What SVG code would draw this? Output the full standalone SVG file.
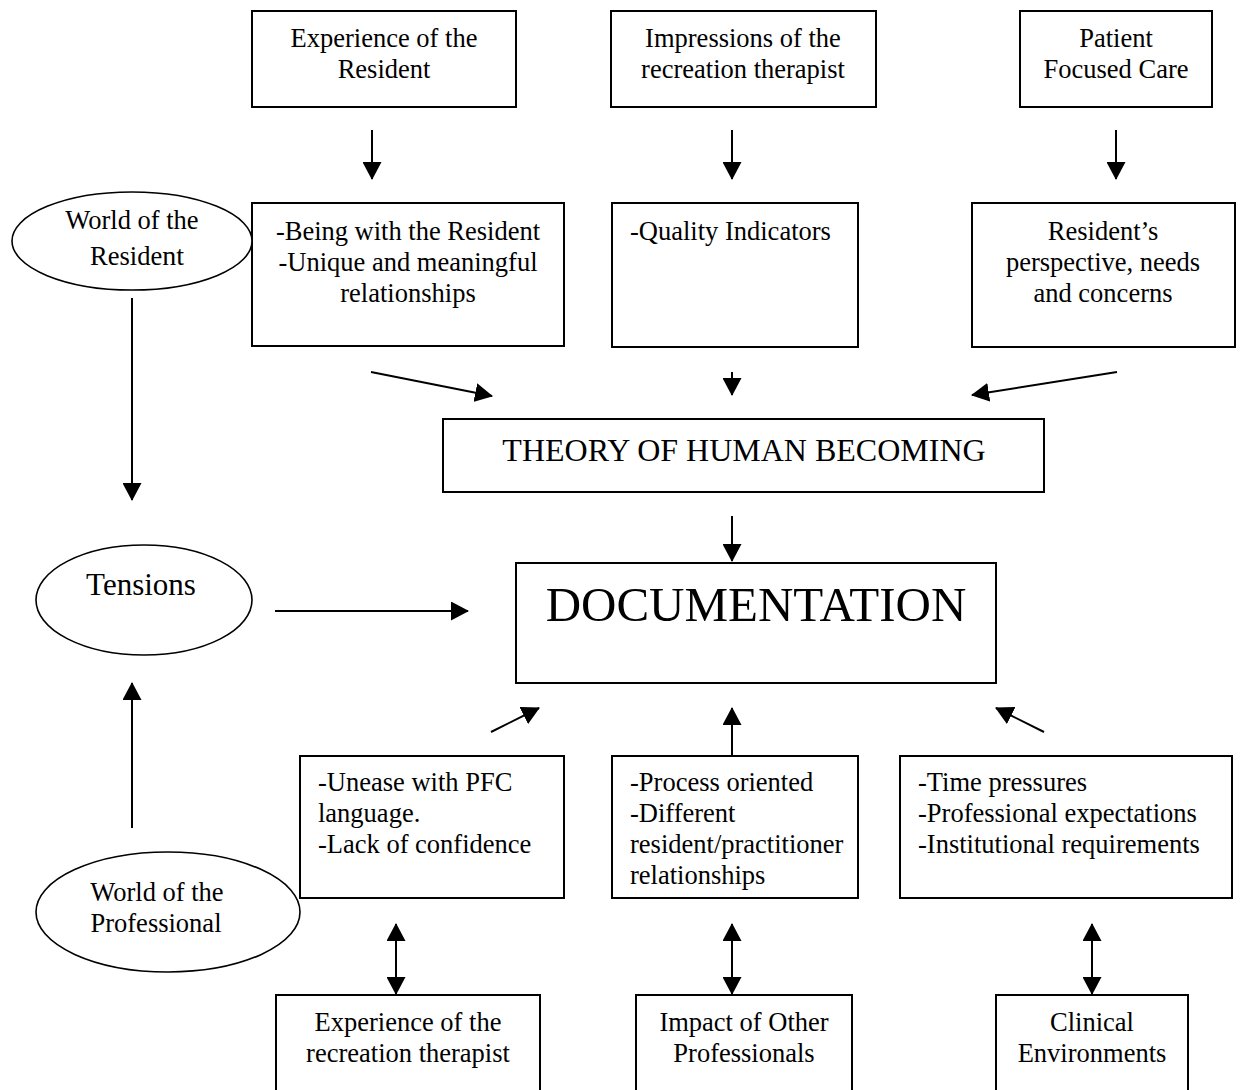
<svg xmlns="http://www.w3.org/2000/svg" width="1242" height="1090" viewBox="0 0 1242 1090">
  <style>
    .box { fill: #ffffff; stroke: #000000; stroke-width: 2; }
    .oval { fill: #ffffff; stroke: #000000; stroke-width: 1.6; }
    .lbl { font-family: "Liberation Serif", "Times New Roman", serif; font-size: 26.5px; fill: #000000; }
    .mid { text-anchor: middle; }
    .title { font-size: 32px; }
    .big { font-size: 49px; }
    .oval-lbl { font-size: 31px; }
    .link { stroke: #000000; stroke-width: 2; fill: none; marker-end: url(#arrow); }
    .both { marker-start: url(#arrow); }
  </style>
  <defs>
    <marker id="arrow" markerUnits="userSpaceOnUse" markerWidth="18" markerHeight="19" refX="17" refY="9.5" orient="auto-start-reverse">
      <path d="M0,0 L18,9.5 L0,19 Z" fill="#000000"/>
    </marker>
  </defs>

  <rect width="1242" height="1090" fill="#ffffff"/>

  <!-- top row -->
  <g id="experience-resident">
    <rect class="box" x="252" y="11" width="264" height="96"/>
    <text class="lbl mid" x="384" y="47">Experience of the</text>
    <text class="lbl mid" x="384" y="78">Resident</text>
  </g>
  <g id="impressions-rt">
    <rect class="box" x="611" y="11" width="265" height="96"/>
    <text class="lbl mid" x="743" y="47">Impressions of the</text>
    <text class="lbl mid" x="743" y="78">recreation therapist</text>
  </g>
  <g id="patient-focused-care">
    <rect class="box" x="1020" y="11" width="192" height="96"/>
    <text class="lbl mid" x="1116" y="47">Patient</text>
    <text class="lbl mid" x="1116" y="78">Focused Care</text>
  </g>

  <!-- second row -->
  <g id="being-with-resident">
    <rect class="box" x="252" y="203" width="312" height="143"/>
    <text class="lbl mid" x="408" y="240">-Being with the Resident</text>
    <text class="lbl mid" x="408" y="271">-Unique and meaningful</text>
    <text class="lbl mid" x="408" y="302">relationships</text>
  </g>
  <g id="quality-indicators">
    <rect class="box" x="612" y="203" width="246" height="144"/>
    <text class="lbl" x="630" y="240">-Quality Indicators</text>
  </g>
  <g id="resident-perspective">
    <rect class="box" x="972" y="203" width="263" height="144"/>
    <text class="lbl mid" x="1103" y="240">Resident’s</text>
    <text class="lbl mid" x="1103" y="271">perspective, needs</text>
    <text class="lbl mid" x="1103" y="302">and concerns</text>
  </g>

  <!-- world of the resident -->
  <g id="world-resident">
    <ellipse class="oval" cx="132" cy="241" rx="120" ry="49"/>
    <text class="lbl mid" x="132" y="229">World of the</text>
    <text class="lbl mid" x="137" y="265">Reside<tspan style="font-size:28px">nt</tspan></text>
  </g>

  <!-- theory -->
  <g id="theory">
    <rect class="box" x="443" y="419" width="601" height="73"/>
    <text class="lbl mid title" x="744" y="461">THEORY OF HUMAN BECOMING</text>
  </g>

  <!-- documentation -->
  <g id="documentation">
    <rect class="box" x="516" y="563" width="480" height="120"/>
    <text class="lbl mid big" x="756" y="621">DOCUMENTATION</text>
  </g>

  <!-- tensions -->
  <g id="tensions">
    <ellipse class="oval" cx="144" cy="600" rx="108" ry="55"/>
    <text class="lbl mid oval-lbl" x="141" y="595">Tensions</text>
  </g>

  <!-- third row -->
  <g id="unease-pfc">
    <rect class="box" x="300" y="756" width="264" height="142"/>
    <text class="lbl" x="318" y="791">-Unease with PFC</text>
    <text class="lbl" x="318" y="822">language.</text>
    <text class="lbl" x="318" y="853">-Lack of confidence</text>
  </g>
  <g id="process-oriented">
    <rect class="box" x="612" y="756" width="246" height="142"/>
    <text class="lbl" x="630" y="791">-Process oriented</text>
    <text class="lbl" x="630" y="822">-Different</text>
    <text class="lbl" x="630" y="853">resident/practitioner</text>
    <text class="lbl" x="630" y="884">relationships</text>
  </g>
  <g id="time-pressures">
    <rect class="box" x="900" y="756" width="332" height="142"/>
    <text class="lbl" x="918" y="791">-Time pressures</text>
    <text class="lbl" x="918" y="822">-Professional expectations</text>
    <text class="lbl" x="918" y="853">-Institutional requirements</text>
  </g>

  <!-- world of the professional -->
  <g id="world-professional">
    <ellipse class="oval" cx="168" cy="912" rx="132" ry="60"/>
    <text class="lbl mid" x="157" y="901">World of the</text>
    <text class="lbl mid" x="156" y="932">Professional</text>
  </g>

  <!-- bottom row -->
  <g id="experience-rt">
    <rect class="box" x="276" y="995" width="264" height="100"/>
    <text class="lbl mid" x="408" y="1031">Experience of the</text>
    <text class="lbl mid" x="408" y="1062">recreation therapist</text>
  </g>
  <g id="other-professionals">
    <rect class="box" x="636" y="995" width="216" height="100"/>
    <text class="lbl mid" x="744" y="1031">Impact of Other</text>
    <text class="lbl mid" x="744" y="1062">Professionals</text>
  </g>
  <g id="clinical-environments">
    <rect class="box" x="996" y="995" width="192" height="100"/>
    <text class="lbl mid" x="1092" y="1031">Clinical</text>
    <text class="lbl mid" x="1092" y="1062">Environments</text>
  </g>

  <!-- connectors -->
  <g id="connectors">
    <line class="link" x1="372" y1="130" x2="372" y2="179"/>
    <line class="link" x1="732" y1="130" x2="732" y2="179"/>
    <line class="link" x1="1116" y1="130" x2="1116" y2="179"/>

    <line class="link" x1="371" y1="372" x2="492" y2="396"/>
    <line class="link" x1="732" y1="372" x2="732" y2="395"/>
    <line class="link" x1="1117" y1="372" x2="972" y2="395"/>

    <line class="link" x1="732" y1="516" x2="732" y2="561"/>
    <line class="link" x1="275" y1="611" x2="468" y2="611"/>

    <line class="link" x1="132" y1="298" x2="132" y2="500"/>
    <line class="link" x1="132" y1="828" x2="132" y2="683"/>

    <line class="link" x1="491" y1="732" x2="539" y2="708"/>
    <line class="link" x1="732" y1="755" x2="732" y2="708"/>
    <line class="link" x1="1044" y1="732" x2="996" y2="708"/>

    <line class="link both" x1="396" y1="924" x2="396" y2="994"/>
    <line class="link both" x1="732" y1="924" x2="732" y2="994"/>
    <line class="link both" x1="1092" y1="924" x2="1092" y2="994"/>
  </g>
</svg>
